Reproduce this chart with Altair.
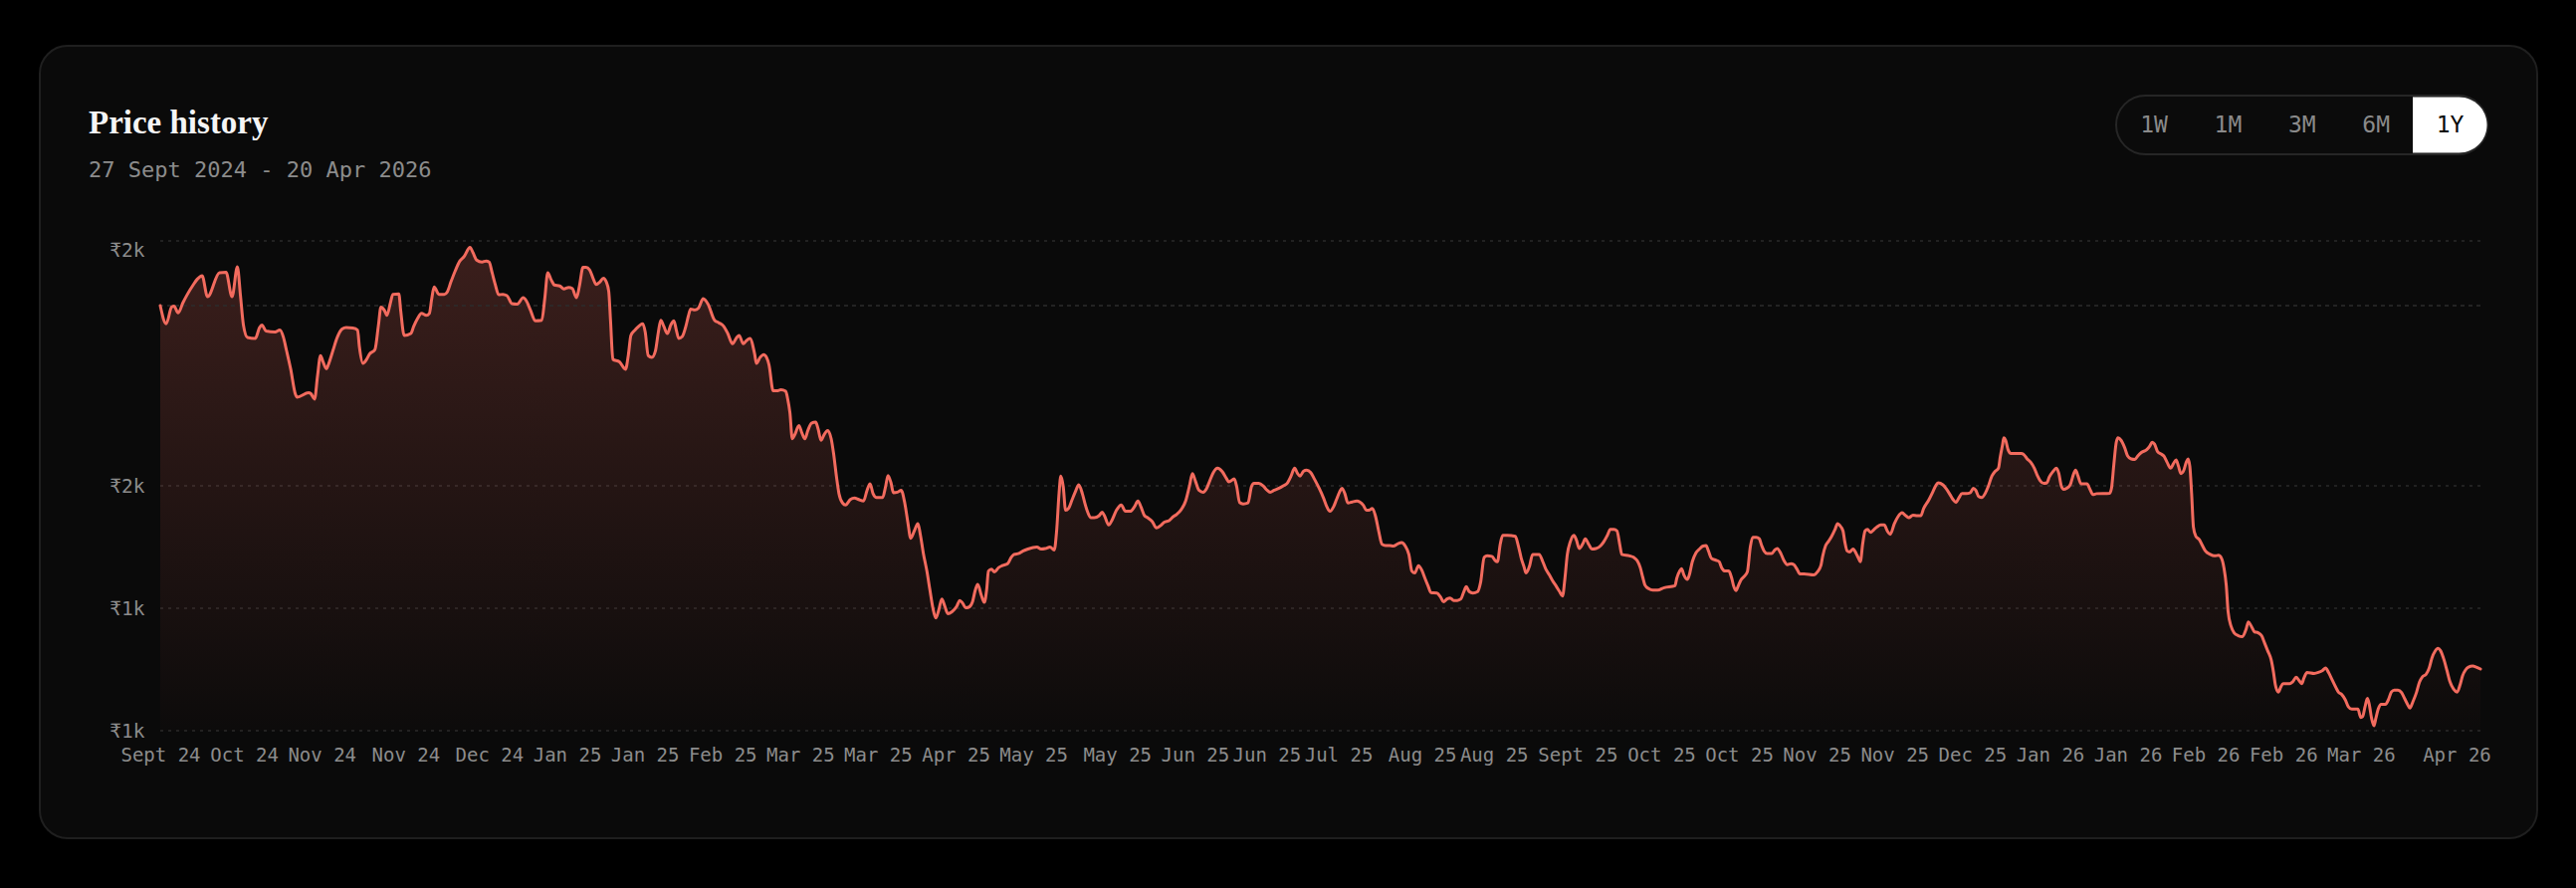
import json
import altair as alt
import pandas as pd

TITLE = "Price history"
SUBTITLE = "27 Sept 2024 - 20 Apr 2026"
RANGE_BUTTONS = ["1W", "1M", "3M", "6M", "1Y"]
SELECTED_RANGE = "1Y"

X_TICK_DAYS = [0, 14, 27, 41, 55, 68, 81, 94, 107, 120, 133, 146, 160, 173, 185,
               197, 211, 223, 237, 251, 264, 277, 290, 303, 316, 329, 342, 355, 368, 384]
X_TICK_LABELS = ["Sept 24", "Oct 24", "Nov 24", "Nov 24", "Dec 24", "Jan 25", "Jan 25",
                 "Feb 25", "Mar 25", "Mar 25", "Apr 25", "May 25", "May 25", "Jun 25",
                 "Jun 25", "Jul 25", "Aug 25", "Aug 25", "Sept 25", "Oct 25", "Oct 25",
                 "Nov 25", "Nov 25", "Dec 25", "Jan 26", "Jan 26", "Feb 26", "Feb 26",
                 "Mar 26", "Apr 26"]
Y_TICK_VALUES = [1000, 1250, 1500, 2000]
Y_TICK_LABELS = ["₹1k", "₹1k", "₹2k", "₹2k"]

# [trading-day index, price]
PRICES_SEP_JAN = [
    [0, 1868], [1.0, 1831], [1.9, 1865], [2.3, 1867], [3.0, 1853], [3.8, 1874], [4.4, 1888],
    [5.5, 1910], [6.2, 1922], [7.0, 1929], [7.9, 1886], [9.9, 1935], [11.0, 1936], [12.0, 1886],
    [12.9, 1947], [13.4, 1890], [13.9, 1829], [14.6, 1803], [15.9, 1801], [16.6, 1823],
    [17.0, 1828], [17.7, 1816], [19.2, 1814], [20.0, 1818], [20.6, 1803], [21.1, 1777],
    [21.8, 1739], [22.6, 1687], [22.9, 1681], [24.8, 1690], [25.2, 1688], [25.8, 1677],
    [26.3, 1724], [26.8, 1766], [27.2, 1754], [27.8, 1739], [28.1, 1747], [28.9, 1777],
    [29.6, 1803], [30.4, 1820], [31.1, 1823], [32.2, 1822], [33.0, 1818], [33.3, 1784],
    [33.9, 1750], [34.5, 1758], [35.0, 1769], [35.9, 1778], [36.5, 1829], [36.9, 1865],
    [37.5, 1858], [37.9, 1848], [38.5, 1874], [38.9, 1891], [39.9, 1892], [40.2, 1859],
    [40.8, 1807], [41.9, 1811], [42.4, 1826], [43.0, 1841], [43.7, 1852], [44.5, 1848],
    [45.0, 1852], [45.4, 1882], [45.8, 1906], [46.6, 1891], [47.5, 1891], [48.0, 1896],
    [48.6, 1916], [49.3, 1938], [50.1, 1959], [50.8, 1968], [51.8, 1987], [52.3, 1976],
    [52.9, 1961], [53.8, 1957], [54.5, 1959], [55.0, 1957], [55.5, 1935], [56.0, 1912],
    [56.6, 1890], [57.3, 1891], [58.0, 1888], [58.8, 1872], [59.7, 1871], [60.7, 1884],
    [61.2, 1878], [61.9, 1859], [62.7, 1837], [63.8, 1838], [64.3, 1882], [64.8, 1935],
    [65.4, 1920], [65.9, 1910], [66.8, 1908], [67.5, 1902], [68.3, 1905], [68.9, 1903],
    [69.6, 1884], [70.1, 1908], [70.7, 1946], [71.2, 1946], [71.8, 1941], [72.4, 1923],
    [72.9, 1911], [73.5, 1916], [74.1, 1924], [74.6, 1916], [75.0, 1897], [75.3, 1837],
    [75.7, 1758], [76.8, 1753], [77.8, 1738], [78.3, 1769], [78.7, 1807], [79.4, 1818],
    [80.7, 1831], [81.1, 1814], [81.6, 1766], [82.2, 1762], [82.8, 1775], [83.3, 1814],
    [83.7, 1838], [84.2, 1826], [84.8, 1811], [85.4, 1829], [85.9, 1837], [86.3, 1818],
    [86.7, 1801], [87.3, 1805], [87.9, 1826], [88.3, 1846], [88.7, 1861], [89.4, 1859],
    [90.0, 1863],
]
PRICES_FEB_JUL = [
    [90.8, 1882], [91.6, 1871], [92.7, 1838], [93.4, 1833], [94.2, 1826], [94.9, 1811],
    [95.7, 1790], [96.4, 1803], [96.8, 1807], [97.5, 1790], [98.0, 1796], [98.6, 1801],
    [99.4, 1769], [99.7, 1750], [100.3, 1762], [100.9, 1768], [101.4, 1762], [101.8, 1747],
    [102.5, 1694], [103.1, 1694], [103.8, 1696], [104.6, 1693], [104.9, 1679], [105.3, 1649],
    [105.7, 1596], [106.1, 1604], [106.8, 1623], [107.3, 1608], [107.8, 1596], [108.3, 1613],
    [108.9, 1628], [109.6, 1630], [110.0, 1617], [110.5, 1593], [111.0, 1604], [111.6, 1613],
    [112.2, 1596], [112.6, 1566], [113.1, 1517], [113.5, 1484], [114.1, 1465], [114.6, 1461],
    [115.4, 1472], [116.1, 1475], [116.8, 1472], [117.6, 1469], [118.2, 1491], [118.7, 1504],
    [119.2, 1484], [119.8, 1476], [120.8, 1476], [121.3, 1499], [121.7, 1521], [122.2, 1506],
    [122.6, 1486], [123.3, 1487], [123.9, 1491], [124.5, 1465], [125.0, 1427], [125.5, 1393],
    [126.1, 1408], [126.7, 1423], [127.1, 1401], [127.6, 1363], [128.2, 1326], [128.7, 1288],
    [129.2, 1251], [129.7, 1230], [130.2, 1247], [130.7, 1269], [131.2, 1254], [131.7, 1239],
    [132.4, 1243], [133.2, 1254], [133.7, 1266], [134.2, 1260], [134.7, 1251], [135.2, 1252],
    [135.8, 1262], [136.3, 1287], [136.7, 1299], [137.3, 1277], [137.8, 1262], [138.2, 1288],
    [138.5, 1326], [139.0, 1330], [139.5, 1324], [140.2, 1333], [140.8, 1337], [141.7, 1341],
    [142.3, 1354], [142.8, 1360], [143.6, 1362], [144.3, 1367], [145.1, 1371], [146.6, 1375],
    [147.3, 1371], [148.0, 1372], [148.8, 1375], [149.5, 1369], [149.9, 1408], [150.3, 1484],
    [150.6, 1520], [151.0, 1499], [151.4, 1450], [151.9, 1454], [152.5, 1472], [153.0, 1487],
    [153.6, 1502], [154.2, 1484], [154.7, 1461], [155.1, 1446], [155.6, 1435], [156.2, 1435],
    [157.0, 1439], [157.5, 1446], [157.9, 1439], [158.6, 1420], [159.2, 1431], [159.9, 1450],
    [160.7, 1461], [161.4, 1448], [162.2, 1448], [162.9, 1457], [163.5, 1469], [164.0, 1457],
    [164.6, 1439], [165.1, 1435], [165.9, 1427], [166.6, 1414], [167.4, 1420], [167.9, 1426],
    [168.7, 1429], [169.4, 1437], [170.0, 1442], [170.7, 1451], [171.5, 1470], [172.1, 1499],
    [172.6, 1525], [173.1, 1510], [173.7, 1491], [174.4, 1487], [175.0, 1495], [175.5, 1510],
    [176.1, 1527], [176.8, 1536], [177.6, 1529], [178.3, 1515], [178.7, 1508], [179.6, 1514],
    [180.0, 1499], [180.5, 1466], [181.1, 1463], [181.9, 1465], [182.5, 1499], [182.9, 1505],
    [183.7, 1505], [184.5, 1499], [185.1, 1491], [185.6, 1487], [186.3, 1491], [187.1, 1495],
    [187.8, 1500], [188.5, 1506], [189.1, 1520], [189.7, 1536], [190.2, 1525], [190.6, 1520],
    [191.2, 1530], [191.7, 1532], [192.4, 1527], [193.0, 1514], [193.8, 1495], [194.5, 1476],
    [195.1, 1457], [195.6, 1448], [196.2, 1457], [196.7, 1472], [197.2, 1487], [197.6, 1495],
    [198.1, 1484], [198.6, 1465], [199.3, 1467], [200.1, 1469], [200.6, 1467], [201.2, 1460],
    [201.7, 1450], [202.1, 1450], [202.7, 1454], [203.2, 1439], [203.8, 1405], [204.3, 1381],
    [204.9, 1378], [205.6, 1378], [206.2, 1377],
]
PRICES_JUL_NOV = [
    [207.0, 1382], [207.6, 1384], [208.2, 1377], [208.8, 1360], [209.3, 1326], [209.8, 1322],
    [210.4, 1337], [211.0, 1327], [211.5, 1311], [212.0, 1296], [212.5, 1282], [213.5, 1281],
    [214.1, 1273], [214.6, 1263], [215.2, 1269], [215.7, 1271], [216.3, 1266], [216.9, 1266],
    [217.5, 1269], [218.0, 1284], [218.4, 1294], [218.9, 1284], [219.5, 1281], [220.3, 1284],
    [220.8, 1303], [221.4, 1354], [221.9, 1357], [222.7, 1356], [223.2, 1348], [223.6, 1345],
    [224.1, 1382], [224.5, 1399], [225.3, 1399], [226.6, 1397], [227.1, 1378], [227.6, 1352],
    [228.1, 1333], [228.4, 1322], [229.0, 1337], [229.5, 1360], [230.6, 1360], [231.2, 1345],
    [231.7, 1330], [232.3, 1318], [232.8, 1307], [233.4, 1296], [234.0, 1284], [234.5, 1275],
    [234.9, 1311], [235.3, 1360], [235.8, 1386], [236.4, 1399], [236.8, 1390], [237.3, 1372],
    [237.9, 1382], [238.3, 1392], [238.9, 1380], [239.4, 1371], [240.1, 1372], [240.9, 1378],
    [241.4, 1386], [242.0, 1399], [242.5, 1411], [243.1, 1411], [243.6, 1408], [244.1, 1378],
    [244.4, 1360], [245.7, 1357], [246.4, 1354], [247.0, 1347], [247.5, 1333], [247.9, 1314],
    [248.3, 1297], [248.9, 1290], [249.6, 1287], [250.4, 1287], [251.5, 1292], [253.3, 1296],
    [253.6, 1311], [254.1, 1326], [254.4, 1331], [254.8, 1318], [255.4, 1309], [255.7, 1318],
    [256.2, 1345], [256.8, 1363], [257.4, 1371], [258.0, 1377], [258.5, 1378], [258.9, 1367],
    [259.4, 1352], [260.2, 1348], [260.7, 1345], [261.1, 1333], [261.7, 1326], [262.3, 1326],
    [262.8, 1311], [263.1, 1296], [263.5, 1286], [263.9, 1296], [264.3, 1307], [264.8, 1314],
    [265.4, 1324], [265.9, 1375], [266.3, 1395], [266.9, 1395], [267.4, 1392], [267.8, 1378],
    [268.2, 1367], [268.7, 1362], [269.5, 1362], [270.0, 1369], [270.4, 1372], [271.0, 1362],
    [271.5, 1348], [272.1, 1339], [272.7, 1341], [273.2, 1339], [273.7, 1330], [274.2, 1320],
    [274.9, 1320], [276.5, 1318], [277.1, 1324], [277.7, 1337], [278.0, 1356], [278.5, 1378],
    [279.0, 1387], [279.5, 1397], [280.1, 1412], [280.5, 1423], [280.8, 1420], [281.4, 1408],
    [281.7, 1386], [282.1, 1367], [282.5, 1365], [283.1, 1371], [283.6, 1362], [284.0, 1352],
    [284.3, 1345], [284.7, 1382], [285.1, 1408], [285.5, 1411], [286.0, 1405], [286.6, 1411],
    [287.1, 1416], [287.7, 1420], [288.3, 1420], [288.8, 1408], [289.3, 1401],
]
PRICES_NOV_APR = [
    [290.0, 1423], [290.6, 1437], [291.3, 1445], [291.8, 1440], [292.4, 1435], [293.1, 1440],
    [293.8, 1439], [294.4, 1439], [294.9, 1454], [295.7, 1470], [296.4, 1487], [296.9, 1500],
    [297.3, 1506], [298.1, 1502], [298.6, 1495], [299.3, 1482], [299.8, 1472], [300.3, 1466],
    [300.8, 1476], [301.3, 1484], [302.0, 1484], [302.7, 1486], [303.2, 1495], [303.6, 1491],
    [304.1, 1478], [304.6, 1476], [305.2, 1485], [305.7, 1499], [306.3, 1520], [306.8, 1529],
    [307.4, 1536], [307.7, 1559], [308.1, 1585], [308.3, 1598], [308.6, 1593], [309.0, 1574],
    [309.5, 1566], [311.2, 1566], [311.7, 1563], [312.2, 1555], [312.8, 1548], [313.4, 1536],
    [313.9, 1521], [314.4, 1510], [315.0, 1505], [315.5, 1506], [315.9, 1518], [316.5, 1529],
    [317.1, 1536], [317.5, 1525], [317.9, 1500], [318.3, 1493], [318.8, 1495], [319.4, 1502],
    [319.8, 1518], [320.3, 1532], [320.7, 1520], [321.2, 1504], [322.2, 1504], [322.7, 1493],
    [323.2, 1482], [323.8, 1484], [326.0, 1485], [326.3, 1495], [326.7, 1544], [327.1, 1589],
    [327.4, 1598], [327.9, 1593], [328.5, 1578], [329.0, 1561], [329.6, 1555], [330.2, 1554],
    [330.7, 1561], [331.3, 1568], [332.2, 1574], [332.7, 1581], [333.1, 1589], [333.5, 1585],
    [334.0, 1570], [334.6, 1565], [335.1, 1560], [335.6, 1548], [336.2, 1536], [336.6, 1544],
    [337.1, 1553], [337.5, 1540], [337.9, 1525], [338.4, 1532], [338.8, 1548], [339.1, 1555],
    [339.4, 1540], [339.7, 1484], [340.0, 1416], [340.4, 1397], [341.0, 1390], [341.5, 1378],
    [342.0, 1367], [342.8, 1360], [343.5, 1357], [344.2, 1358], [344.7, 1352], [345.1, 1333],
    [345.5, 1296], [345.8, 1243], [346.3, 1213], [346.8, 1200], [347.5, 1194], [348.2, 1192],
    [348.8, 1207], [349.2, 1222], [349.7, 1213], [350.2, 1202], [350.8, 1200], [351.4, 1194],
    [351.9, 1179], [352.4, 1164], [353.0, 1145], [353.4, 1119], [353.7, 1094], [354.2, 1079],
    [354.6, 1089], [355.0, 1096], [356.1, 1096], [356.6, 1100], [357.2, 1109], [357.7, 1102],
    [358.1, 1096], [358.5, 1108], [359.0, 1119], [360.2, 1117], [360.9, 1119], [361.6, 1123],
    [362.1, 1128], [362.6, 1119], [363.2, 1104], [363.8, 1089], [364.3, 1078], [364.8, 1074],
    [365.4, 1063], [365.9, 1049], [366.5, 1044], [367.5, 1044], [368.0, 1027], [368.3, 1029],
    [368.7, 1049], [369.1, 1066], [369.4, 1054], [369.8, 1025], [370.2, 1010], [370.5, 1025],
    [370.9, 1044], [371.4, 1054], [372.1, 1054], [372.6, 1063], [373.1, 1079], [373.6, 1083],
    [374.2, 1083], [374.8, 1078], [375.3, 1066], [375.8, 1054], [376.2, 1046], [376.7, 1059],
    [377.3, 1078], [377.8, 1099], [378.3, 1110], [378.9, 1115], [379.4, 1127], [379.9, 1149],
    [380.4, 1162], [380.9, 1168], [381.3, 1164], [381.9, 1145], [382.4, 1123], [382.9, 1100],
    [383.5, 1085], [384.1, 1079], [384.6, 1094], [385.0, 1112], [385.5, 1124], [386.0, 1130],
    [386.7, 1132], [387.3, 1130], [388.0, 1126],
]

rows = PRICES_SEP_JAN + PRICES_FEB_JUL + PRICES_JUL_NOV + PRICES_NOV_APR
df = pd.DataFrame(rows, columns=["day", "price"])
start_df = pd.DataFrame({"price": [rows[0][1]]})
grid_df = pd.DataFrame({"price": Y_TICK_VALUES})
one = pd.DataFrame({"k": [0]})

# ---------- styling ----------
MONO = "DejaVu Sans Mono"
SERIF = "Liberation Serif"
LINE_COLOR = "#f26b5e"
LABEL_COLOR = "#8c8c8c"
PLOT_W, PLOT_H = 2331, 492
PAD = {"left": 161, "top": 242, "right": 96, "bottom": 158}

x_label_expr = "{}[indexof({}, datum.value)]".format(
    json.dumps(X_TICK_LABELS, ensure_ascii=False), json.dumps(X_TICK_DAYS))
y_label_expr = "{}[indexof({}, datum.value)]".format(
    json.dumps(Y_TICK_LABELS, ensure_ascii=False), json.dumps(Y_TICK_VALUES))

x_enc = alt.X(
    "day:Q",
    scale=alt.Scale(domain=[0, 388], nice=False, zero=False),
    axis=alt.Axis(values=X_TICK_DAYS, labelExpr=x_label_expr, grid=False, domain=False,
                  ticks=False, tickSize=0, labelPadding=15, labelFont=MONO, labelFontSize=19,
                  labelColor=LABEL_COLOR, labelOverlap=False, labelFlush=False,
                  labelBound=False, labelBaseline="top", title=None, zindex=1),
)
y_enc = alt.Y(
    "price:Q",
    scale=alt.Scale(domain=[1000, 2000], nice=False, zero=False),
    axis=alt.Axis(values=Y_TICK_VALUES, labelExpr=y_label_expr, grid=False, domain=False,
                  ticks=False, tickSize=0, labelPadding=16, labelFont=MONO, labelFontSize=19.5,
                  labelColor=LABEL_COLOR, labelOverlap=False, labelFlush=False,
                  labelBaseline={"condition": {"test": "datum.value == 2000", "value": "top"},
                                 "value": "middle"},
                  title=None, zindex=1),
)

card = alt.Chart(one).mark_rect(
    fill="#0a0a0a", stroke="#1f1f1f", strokeWidth=2, cornerRadius=28
).encode(x=alt.value(-121), x2=alt.value(2388), y=alt.value(-196), y2=alt.value(600))

pill = alt.Chart(one).mark_rect(
    fill="#0b0b0b", stroke="#262626", strokeWidth=2, cornerRadius=29.5
).encode(x=alt.value(1965), x2=alt.value(2338), y=alt.value(-146), y2=alt.value(-87))

selected_idx = RANGE_BUTTONS.index(SELECTED_RANGE)
sel = alt.Chart(one).mark_rect(
    fill="#ffffff", cornerRadiusTopRight=28, cornerRadiusBottomRight=28
).encode(x=alt.value(2263), x2=alt.value(2337.5), y=alt.value(-144.5), y2=alt.value(-88.5))

title = alt.Chart(one).mark_text(
    text=TITLE, font=SERIF, fontSize=33, fontWeight="bold", color="#f5f5f5",
    align="left", baseline="alphabetic"
).encode(x=alt.value(-72), y=alt.value(-107.7))

subtitle = alt.Chart(one).mark_text(
    text=SUBTITLE, font=MONO, fontSize=22, color=LABEL_COLOR, align="left", baseline="alphabetic"
).encode(x=alt.value(-72), y=alt.value(-63.7))

buttons = []
for i, lab in enumerate(RANGE_BUTTONS):
    buttons.append(
        alt.Chart(one).mark_text(
            text=lab, font=MONO, fontSize=23,
            color="#0a0a0a" if i == selected_idx else "#8a8a8a",
            align="center", baseline="middle",
        ).encode(x=alt.value(2003 + i * 74.4), y=alt.value(-116))
    )

grid = alt.Chart(grid_df).mark_rule(
    color="#2a2a2a", strokeWidth=1.5, strokeDash=[3, 5]
).encode(y=y_enc)

area = alt.Chart(df).mark_area(
    interpolate="monotone",
    color=alt.Gradient(
        gradient="linear",
        stops=[alt.GradientStop(color="rgba(242,107,94,0.21)", offset=0),
               alt.GradientStop(color="rgba(242,107,94,0.01)", offset=1)],
        x1=1, x2=1, y1=0, y2=1,
    ),
).encode(x=x_enc, y=y_enc, y2=alt.datum(1000))

ref = alt.Chart(start_df).mark_rule(
    color="#2c2c2c", strokeWidth=1.5, strokeDash=[4, 4]
).encode(y=y_enc)

line = alt.Chart(df).mark_line(
    interpolate="monotone", color=LINE_COLOR, strokeWidth=3,
    strokeCap="round", strokeJoin="round",
).encode(x=x_enc, y=y_enc)

chart = alt.layer(
    card, pill, sel, title, subtitle, *buttons, grid, area, ref, line
).properties(
    width=PLOT_W, height=PLOT_H, padding=PAD,
    autosize=alt.AutoSizeParams(type="none"),
    background="#000000",
).configure_view(strokeWidth=0)

chart.save("out.html", embed_options={"renderer": "svg", "actions": False})
